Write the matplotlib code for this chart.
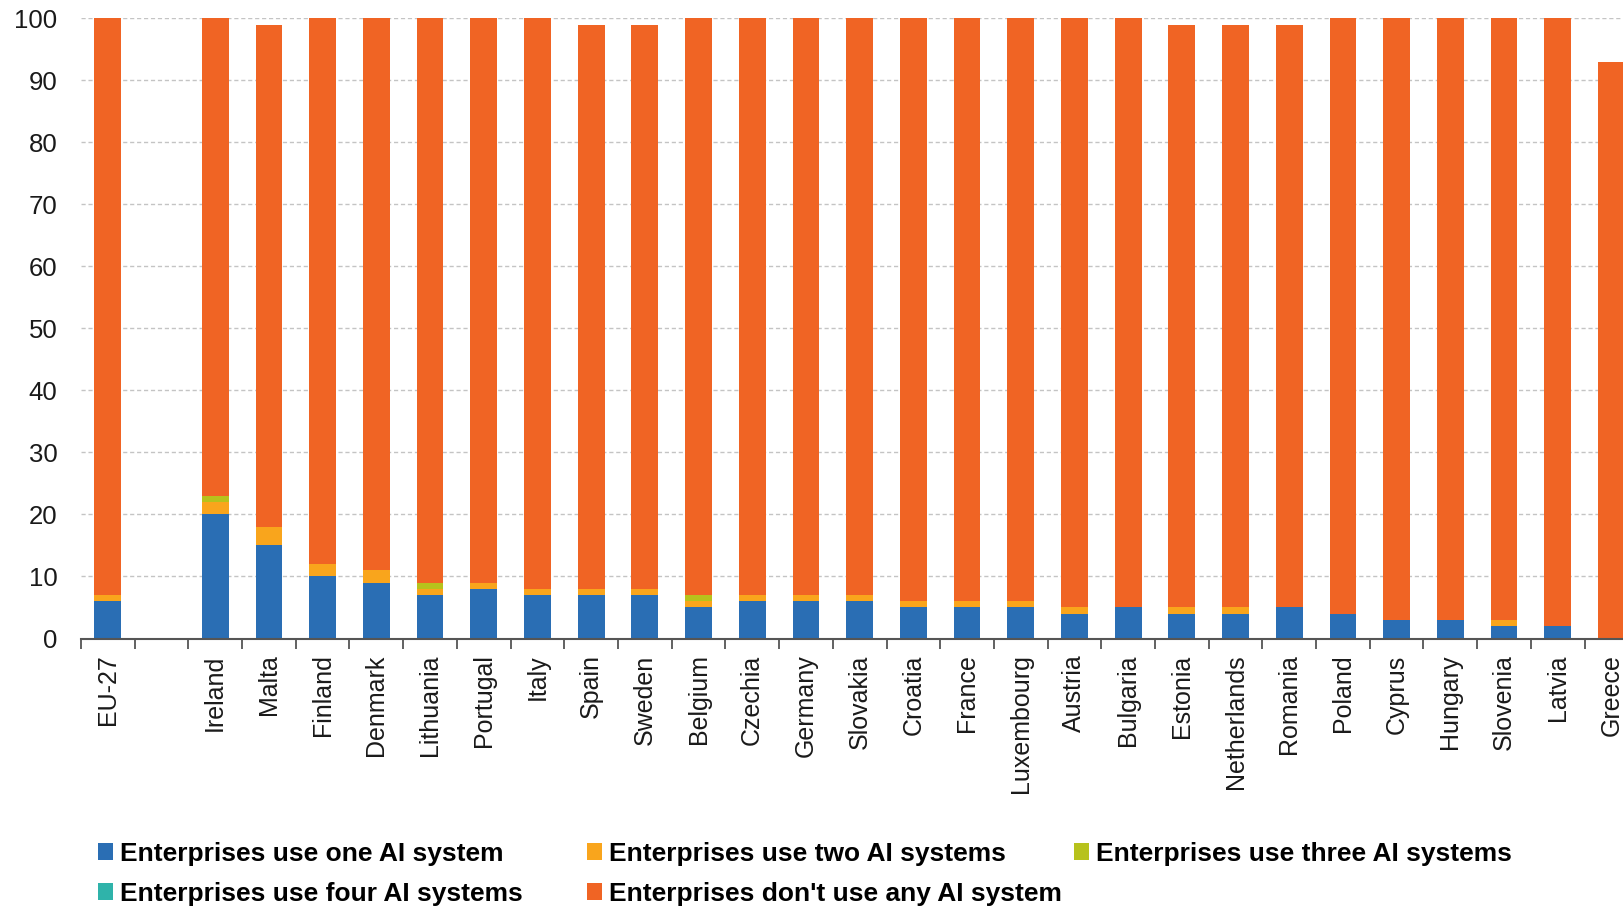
import matplotlib.pyplot as plt
import numpy as np

countries = ["EU-27", "", "Ireland", "Malta", "Finland", "Denmark", "Lithuania",
             "Portugal", "Italy", "Spain", "Sweden", "Belgium", "Czechia", "Germany",
             "Slovakia", "Croatia", "France", "Luxembourg", "Austria", "Bulgaria",
             "Estonia", "Netherlands", "Romania", "Poland", "Cyprus", "Hungary",
             "Slovenia", "Latvia", "Greece"]

one_ai   = [6, 0, 20, 15, 10, 9, 7, 8, 7, 7, 7, 5, 6, 6, 6, 5, 5, 5, 4, 5, 4, 4, 5, 4, 3, 3, 2, 2, 0]
two_ai   = [1, 0, 2, 3, 2, 2, 1, 1, 1, 1, 1, 1, 1, 1, 1, 1, 1, 1, 1, 0, 1, 1, 0, 0, 0, 0, 1, 0, 0]
three_ai = [0, 0, 1, 0, 0, 0, 1, 0, 0, 0, 0, 1, 0, 0, 0, 0, 0, 0, 0, 0, 0, 0, 0, 0, 0, 0, 0, 0, 0]
four_ai  = [0] * 29
no_ai    = [93, 0, 77, 81, 88, 89, 91, 91, 92, 91, 91, 93, 93, 93, 93, 94, 94, 94, 95, 95,
            94, 94, 94, 96, 97, 97, 97, 98, 93]

labels = ["Enterprises use one AI system", "Enterprises use two AI systems",
          "Enterprises use three AI systems", "Enterprises use four AI systems",
          "Enterprises don't use any AI system"]
colors = ["#2A6EB4", "#F9A51C", "#B7C21C", "#2FB3AA", "#F06424"]

plt.rcParams['font.family'] = ['Liberation Sans', 'DejaVu Sans']

W, H = 1624, 910
fig = plt.figure(figsize=(W / 100, H / 100), dpi=100)
# axes run past the right edge of the figure, like the cropped original
ax = fig.add_axes([81 / W, 1 - 638.5 / H, 29 * 53.7 / W, (638.5 - 18.3) / H])

x = np.arange(len(countries))
series = [one_ai, two_ai, three_ai, four_ai, no_ai]
bottom = np.zeros(len(countries))
bars = []
for vals, col, lab in zip(series, colors, labels):
    b = ax.bar(x, vals, 0.5, bottom=bottom, color=col, label=lab, zorder=3)
    bars.append(b)
    bottom += np.array(vals)

ax.set_xlim(-0.5, len(countries) - 0.5)
ax.set_ylim(0, 100)
ax.set_yticks(range(0, 101, 10))
ax.yaxis.grid(True, linestyle=(0, (3, 2)), color="#c4c4c4", linewidth=1, zorder=0)

ax.set_xticks(x)
ax.set_xticklabels(countries, rotation=90, va="top", ha="center")
ax.set_xticks(np.arange(-0.5, len(countries), 1), minor=True)
ax.tick_params(axis="x", which="major", length=0, pad=11.5, labelsize=18, colors="#1a1a1a")
ax.tick_params(axis="x", which="minor", length=7, width=1.3, color="#555555")
ax.tick_params(axis="y", length=0, pad=17, labelsize=18.5, colors="#1a1a1a")

for s in ["top", "right", "left"]:
    ax.spines[s].set_visible(False)
ax.spines["bottom"].set_color("#555555")
ax.spines["bottom"].set_linewidth(1.5)
ax.spines["bottom"].set_zorder(4)

# legend laid out in a fixed grid, one legend per column
cols = [([0, 3], 98), ([1, 4], 587), ([2], 1074)]
for idx, px in cols:
    fig.legend([bars[i] for i in idx], [labels[i] for i in idx],
               loc="upper left", bbox_to_anchor=(px / W, 1 - 842 / H),
               frameon=False, borderpad=0, borderaxespad=0,
               handlelength=0.55, handleheight=0.6, handletextpad=0.3,
               labelspacing=0.6, prop={"size": 19, "weight": "bold"})

fig.savefig("out.png", dpi=100)
